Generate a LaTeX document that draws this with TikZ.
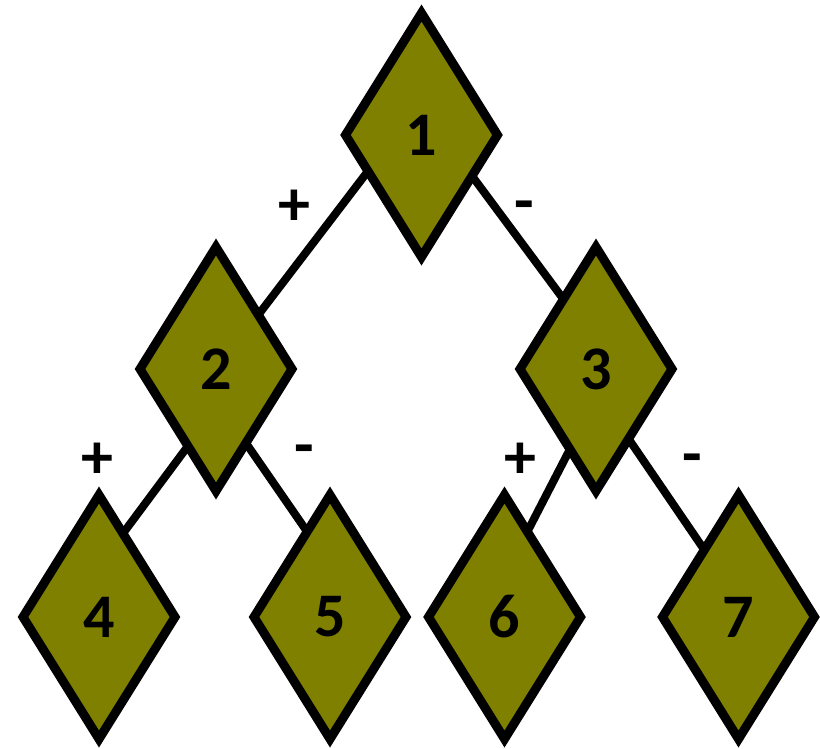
\documentclass[tikz,border=0pt]{standalone}
\usepackage{fontspec}
\setmainfont{Carlito}
\usetikzlibrary{shapes.geometric,backgrounds}
\definecolor{olivefill}{HTML}{808000}
\tikzset{
  dia/.style={diamond, draw=black, fill=olivefill, line width=9pt, minimum width=152pt, minimum height=244pt, inner sep=0pt, outer sep=0pt, font=\fontsize{62}{62}\selectfont\bfseries},
  link/.style={draw=black, line width=8pt},
  sign/.style={font=\fontsize{64}{64}\selectfont\bfseries, inner sep=0pt}
}
\begin{document}
\begin{tikzpicture}[x=1pt,y=-1pt]
\useasboundingbox (0,0) rectangle (820,748);
\node[dia] (n1) at (421.5,135) {1};
\node[dia] (n2) at (216,369) {2};
\node[dia] (n3) at (596,369) {3};
\node[dia] (n4) at (99,617) {4};
\node[dia] (n5) at (330,617) {5};
\node[dia] (n6) at (504.5,617) {6};
\node[dia] (n7) at (738.5,617) {7};
\begin{scope}[on background layer]
\draw[link] (n1.214) -- (n2.52);
\draw[link] (n1.321) -- (n3.115);
\draw[link] (n2.250) -- (n4.74);
\draw[link] (n2.292) -- (n5.105);
\draw[link] (n3.252) -- (n6.75);
\draw[link] (n3.295) -- (n7.117);
\end{scope}
\node[sign] (p1) at (294,208) {+};
\node[sign] (m1) at (524,212) {-};
\node[sign] (p2) at (97,461) {+};
\node[sign] (m2) at (304,456) {-};
\node[sign] (p3) at (520,461) {+};
\node[sign] (m3) at (692,465) {-};
\end{tikzpicture}
\end{document}
